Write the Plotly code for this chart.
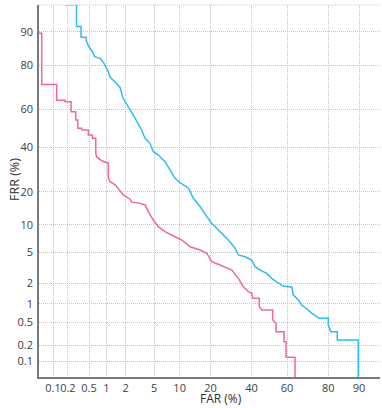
from statistics import NormalDist
import plotly.graph_objects as go

# ---- data (percent) ----
pink_far = [0.04,0.0574,0.0574,0.119,0.119,0.176,0.176,0.231,0.231,0.284,0.284,0.31,0.31,0.368,0.368,0.486,0.486,0.573,0.573,0.657,0.657,0.684,0.833,1.07,1.07,1.14,1.38,1.65,1.85,2.33,2.47,3.24,3.79,4.19,4.87,5.64,6.81,8.51,10.5,12.9,16.1,18.6,20.5,24.1,29.6,32.9,35.5,38.2,40.1,40.6,44.3,44.3,45.7,51.9,51.9,53.8,53.8,58.3,58.3,59.4,59.4,64.3,64.3]
pink_frr = [89.7,89.7,72.1,72.1,64.6,64.6,63.9,63.9,58.8,58.8,54.5,54.5,50.1,50.1,49.2,49.2,46.6,46.6,44.8,44.8,37.1,35.4,33.4,32.2,25.8,24,22.7,20.1,18.9,17.4,16.4,16,15.5,13.5,11.2,9.61,8.53,7.67,6.93,5.82,5.33,4.87,3.85,3.49,3.01,2.33,1.78,1.51,1.43,1.21,1.21,0.898,0.797,0.797,0.549,0.484,0.348,0.348,0.232,0.232,0.119,0.119,0.01]
blue_far = [0.176,0.294,0.294,0.357,0.357,0.441,0.441,0.486,0.573,0.629,0.779,0.886,1.03,1.14,1.43,1.65,1.83,2.1,2.33,2.75,3.31,3.79,4.42,4.87,5.64,6.81,7.8,8.9,10.1,12.4,13.9,16.1,18.6,20.5,22.6,25.6,28.7,31.2,32.9,36.4,40.1,41.9,44.7,48.5,51.4,54.2,57.9,62.6,63.4,66.1,67.8,71.1,72.8,76.2,80.0,80.0,81.0,83.4,83.4,89.8,89.8]
blue_frr = [95.0,95.0,91.2,91.2,88.7,88.7,88.0,86.4,84.6,83.0,82.4,81.0,78.5,75.3,72.7,70.7,65.7,62.5,59.7,55.5,50.1,44.8,42.2,37.9,36.2,33.0,29.1,25.4,23.6,21.4,17.7,15.0,12.1,10.4,9.25,7.86,6.64,5.58,4.65,4.43,4.04,3.32,3.01,2.72,2.33,2.09,1.82,1.75,1.35,1.14,0.954,0.797,0.706,0.586,0.586,0.453,0.348,0.348,0.249,0.249,0.01]
tick_pct = [0.1, 0.2, 0.5, 1, 2, 5, 10, 20, 40, 60, 80, 90]
tick_labels = ["0.1", "0.2", "0.5", "1", "2", "5", "10", "20", "40", "60", "80", "90"]
x_range_pct = [0.05, 94.3]
y_range_pct = [0.0483, 94.95]

N = NormalDist()
def probit(p):
    return N.inv_cdf(p / 100.0)

PINK = "#F066A6"
BLUE = "#2CBEF0"
GRID = "#c4c4c4"

fig = go.Figure()
fig.add_trace(go.Scatter(x=[probit(v) for v in blue_far], y=[probit(v) for v in blue_frr],
                         mode="lines", line=dict(color=BLUE, width=1.5), showlegend=False))
fig.add_trace(go.Scatter(x=[probit(v) for v in pink_far], y=[probit(v) for v in pink_frr],
                         mode="lines", line=dict(color=PINK, width=1.5), showlegend=False))

tv = [probit(v) for v in tick_pct]
axis_common = dict(
    tickvals=tv, ticktext=tick_labels, showgrid=True, gridcolor=GRID, gridwidth=1,
    griddash="1px,1px", zeroline=False, showline=True, linecolor="#7a7a7a", linewidth=1.5,
    ticks="", tickangle=0, automargin=False,
    tickfont=dict(family="Open Sans", size=11, color="#404040"),
)
fig.update_xaxes(range=[probit(v) for v in x_range_pct], **axis_common)
fig.update_yaxes(range=[probit(v) for v in y_range_pct], ticklabelstandoff=2, **axis_common)

fig.add_shape(type="line", xref="paper", yref="paper", x0=0, x1=1, y0=1, y1=1,
              line=dict(color=GRID, width=1, dash="1px,1px"))

fig.add_annotation(text="FRR (%)", xref="paper", yref="paper", x=-0.07, y=0.53,
                   textangle=-90, showarrow=False, xanchor="center", yanchor="middle",
                   font=dict(family="Open Sans", size=12.5, color="#303030"))
fig.add_annotation(text="FAR (%)", xref="paper", yref="paper", x=0.534, y=-0.083,
                   showarrow=False, xanchor="center", yanchor="bottom", borderpad=0,
                   font=dict(family="Open Sans", size=12, color="#303030"))

fig.update_layout(width=382, height=408, margin=dict(l=39, r=2, t=5, b=31),
                  paper_bgcolor="white", plot_bgcolor="white", showlegend=False)
fig.write_html("out.html", config={"displayModeBar": False},
               post_script="document.body.style.margin='0';document.body.style.overflow='hidden';")
